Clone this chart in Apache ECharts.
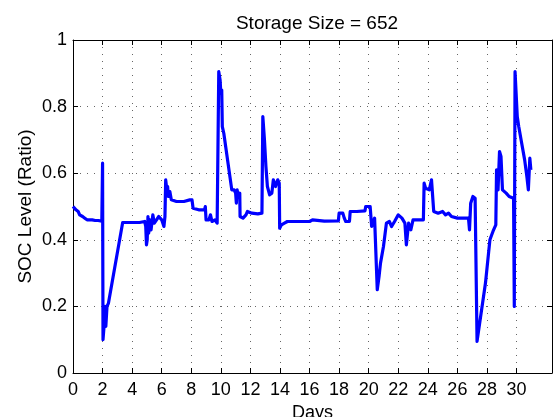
<!DOCTYPE html>
<html>
<head>
<meta charset="utf-8">
<script src="https://cdn.jsdelivr.net/npm/echarts@6/dist/echarts.min.js"></script>
<style>
  html, body { margin: 0; padding: 0; background: #fff; }
  #chart { width: 554px; height: 417px; }
</style>
</head>
<body>
<div id="chart"></div>
<script>
// values
const days = [
  0.00, 0.10, 0.20, 0.35, 0.45, 0.55, 0.65, 0.80, 0.95, 1.10, 1.20, 1.30, 1.50, 1.70, 1.95,
  2.00, 2.03, 2.10, 2.17, 2.22, 2.30, 2.40, 3.36, 3.60, 4.00, 4.50, 4.85, 4.92, 4.97, 5.02,
  5.07, 5.12, 5.20, 5.28, 5.40, 5.50, 5.65, 5.80, 6.00, 6.15, 6.22, 6.27, 6.35, 6.40, 6.45,
  6.55, 6.65, 7.00, 7.50, 7.90, 8.05, 8.12, 8.50, 8.90, 8.95, 9.00, 9.20, 9.30, 9.40, 9.60,
  9.75, 9.82, 9.86, 9.95, 10.00, 10.06, 10.10, 10.20, 10.74, 10.90, 11.00, 11.05, 11.10, 11.20, 11.28,
  11.30, 11.50, 11.70, 11.80, 12.10, 12.50, 12.78, 12.84, 12.95, 13.05, 13.15, 13.30, 13.45, 13.55, 13.70,
  13.85, 13.95, 13.98, 14.10, 14.30, 14.50, 15.00, 15.50, 16.00, 16.20, 16.30, 17.00, 17.95, 18.00, 18.10,
  18.25, 18.35, 18.45, 18.70, 18.75, 19.20, 19.75, 19.80, 20.10, 20.20, 20.40, 20.52, 20.58, 20.70, 20.80,
  21.00, 21.20, 21.40, 21.55, 21.75, 22.00, 22.25, 22.45, 22.55, 22.70, 22.85, 23.00, 23.40, 23.70, 23.75,
  23.85, 24.10, 24.25, 24.35, 24.40, 24.70, 25.00, 25.20, 25.40, 25.60, 26.00, 26.50, 26.75, 26.82, 26.90,
  27.05, 27.20, 27.33, 27.90, 28.20, 28.45, 28.60, 28.65, 28.75, 28.85, 28.95, 29.05, 29.15, 29.30, 29.50,
  29.80, 29.85, 29.90, 30.05, 30.15, 30.35, 30.55, 30.70, 30.80, 30.90, 30.97
];
const soc = [
  0.500, 0.495, 0.490, 0.485, 0.475, 0.480, 0.470, 0.465, 0.460, 0.460, 0.455, 0.460, 0.458, 0.458, 0.456,
  0.630, 0.100, 0.140, 0.200, 0.140, 0.200, 0.210, 0.452, 0.452, 0.452, 0.452, 0.455, 0.440, 0.385, 0.400,
  0.470, 0.420, 0.460, 0.430, 0.475, 0.450, 0.460, 0.470, 0.460, 0.440, 0.470, 0.580, 0.550, 0.560, 0.530,
  0.545, 0.520, 0.515, 0.515, 0.520, 0.520, 0.495, 0.490, 0.490, 0.500, 0.460, 0.460, 0.475, 0.455, 0.460,
  0.450, 0.445, 0.905, 0.880, 0.840, 0.850, 0.740, 0.720, 0.550, 0.550, 0.540, 0.510, 0.550, 0.530, 0.540,
  0.470, 0.465, 0.475, 0.485, 0.480, 0.478, 0.480, 0.770, 0.700, 0.620, 0.560, 0.535, 0.540, 0.580, 0.560,
  0.580, 0.570, 0.435, 0.445, 0.450, 0.455, 0.455, 0.455, 0.455, 0.460, 0.455, 0.456, 0.457, 0.480, 0.475,
  0.480, 0.465, 0.455, 0.455, 0.485, 0.485, 0.487, 0.500, 0.500, 0.440, 0.465, 0.460, 0.250, 0.290, 0.330,
  0.380, 0.450, 0.455, 0.440, 0.455, 0.475, 0.465, 0.450, 0.385, 0.450, 0.430, 0.460, 0.460, 0.460, 0.570,
  0.555, 0.550, 0.580, 0.575, 0.485, 0.480, 0.485, 0.475, 0.480, 0.470, 0.465, 0.465, 0.465, 0.430, 0.510,
  0.530, 0.525, 0.095, 0.270, 0.400, 0.430, 0.445, 0.610, 0.550, 0.665, 0.650, 0.550, 0.545, 0.540, 0.530,
  0.525, 0.200, 0.905, 0.770, 0.740, 0.690, 0.640, 0.590, 0.550, 0.645, 0.610
];
const xTicks = [0, 2, 4, 6, 8, 10, 12, 14, 16, 18, 20, 22, 24, 26, 28, 30];
const yTicks = [0, 0.2, 0.4, 0.6, 0.8, 1];
const xMax = 32.4;

const font = 'Liberation Sans, Arial, Helvetica, sans-serif';
const gridLine = { show: true, lineStyle: { color: '#666', type: [1, 6], width: 1 } };
const boxLine = { show: true, onZero: false, lineStyle: { color: '#000', width: 1 } };
const tick = { show: true, inside: true, length: 5, lineStyle: { color: '#000' } };

const chart = echarts.init(document.getElementById('chart'));

const option = {
  animation: false,
  backgroundColor: '#fff',
  title: {
    text: 'Storage Size = 652',
    left: 312,
    textAlign: 'center',
    top: 9,
    textStyle: { fontFamily: font, fontSize: 19, fontWeight: 'normal', color: '#000' }
  },
  // keep the plot box fixed, MATLAB lets the axis title run off the bottom edge
  grid: { left: 73, right: 2, top: 40, bottom: 44, outerBoundsMode: 'none' },
  xAxis: [
    {
      type: 'value',
      min: 0,
      max: xMax,
      position: 'bottom',
      name: 'Days',
      nameLocation: 'middle',
      nameGap: 27,
      nameTextStyle: { fontFamily: font, fontSize: 18, color: '#000' },
      axisLine: boxLine,
      axisTick: Object.assign({ customValues: xTicks }, tick),
      axisLabel: { customValues: xTicks, fontFamily: font, fontSize: 18, color: '#000', margin: 8 },
      splitLine: gridLine
    },
    {
      type: 'value',
      min: 0,
      max: xMax,
      position: 'top',
      axisLine: boxLine,
      axisTick: Object.assign({ customValues: xTicks }, tick),
      axisLabel: { show: false },
      splitLine: { show: false }
    }
  ],
  yAxis: [
    {
      type: 'value',
      min: 0,
      max: 1,
      interval: 0.2,
      position: 'left',
      name: 'SOC Level (Ratio)',
      nameLocation: 'middle',
      nameGap: 38,
      nameMoveOverlap: false,
      nameTextStyle: { fontFamily: font, fontSize: 19, color: '#000' },
      axisLine: boxLine,
      axisTick: Object.assign({ customValues: yTicks }, tick),
      axisLabel: { customValues: yTicks, fontFamily: font, fontSize: 18, color: '#000', margin: 6 },
      splitLine: gridLine
    },
    {
      type: 'value',
      min: 0,
      max: 1,
      interval: 0.2,
      position: 'right',
      axisLine: boxLine,
      axisTick: tick,
      axisLabel: { show: false },
      splitLine: { show: false }
    }
  ],
  series: [
    {
      type: 'line',
      data: days.map((d, i) => [d, soc[i]]),
      showSymbol: false,
      lineStyle: { color: '#0000ff', width: 3.2, join: 'round' },
      itemStyle: { color: '#0000ff' }
    }
  ]
};

chart.setOption(option);
</script>
</body>
</html>
